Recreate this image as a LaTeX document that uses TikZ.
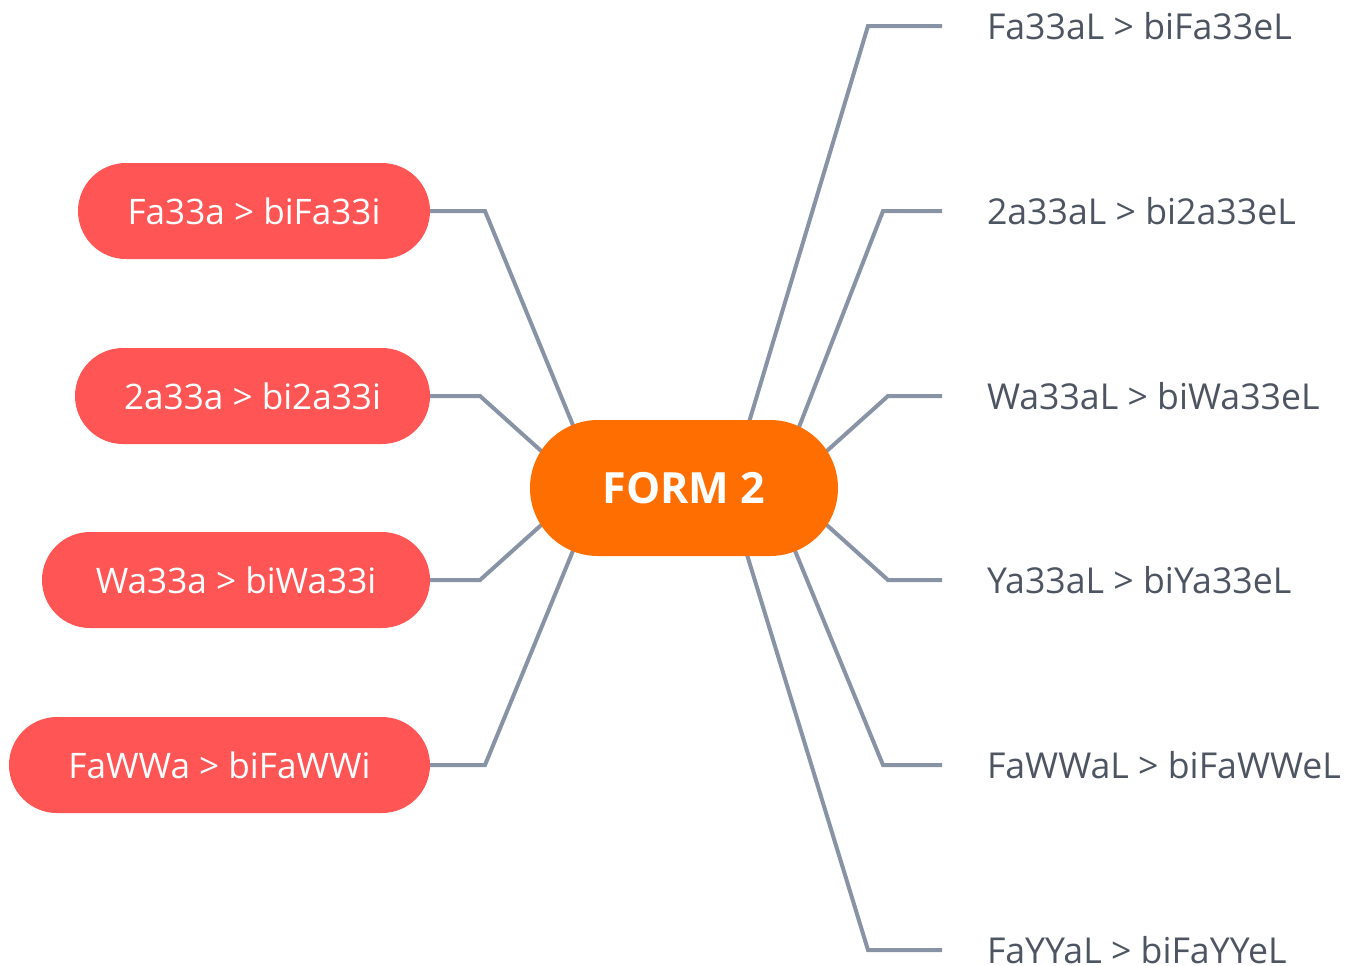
\documentclass[tikz,border=0pt]{standalone}
\usepackage{fontspec}
\setmainfont{Open Sans}
\usepackage{tikz}
\usetikzlibrary{positioning,backgrounds}

\definecolor{oranssi}{RGB}{255,110,0}
\definecolor{punainen}{RGB}{255,85,85}
\definecolor{harmaa}{RGB}{136,148,166}
\definecolor{teksti}{RGB}{78,85,98}

\begin{document}
\begin{tikzpicture} [auto, thick,
                    keski/.style={rectangle,fill=oranssi,text=white,minimum width=6.16cm,minimum height=2.72cm,
                      rounded corners=1.36cm,inner sep=0pt,outer sep=0pt,font=\fontsize{24.5}{28}\selectfont\bfseries},
                    haara/.style={rectangle,fill=punainen,text=white,minimum height=1.92cm,rounded corners=0.96cm,
                      inner xsep=0.96cm,inner ysep=0pt,outer sep=0pt,anchor=east,font=\fontsize{20}{24}\selectfont},
                    lehti/.style={inner xsep=0.9cm,inner ysep=0pt,outer sep=0pt,anchor=west,text=teksti,
                      font=\fontsize{20.3}{24}\selectfont},
                    viiva/.style={draw=harmaa,line width=0.08cm,shorten >=-0.5cm}]

\useasboundingbox (0,0) rectangle (27.44,-19.3);

\node[keski] (N0) at (13.68,-9.76) {FORM 2};

\node[haara,minimum width=7.04cm] (N1) at (8.6,-4.22) {Fa33a > biFa33i};
\node[haara,minimum width=7.1cm] (N2) at (8.6,-7.92) {2a33a > bi2a33i};
\node[haara,minimum width=7.76cm] (N3) at (8.6,-11.6) {Wa33a > biWa33i};
\node[haara,minimum width=8.42cm] (N4) at (8.6,-15.3) {FaWWa > biFaWWi};

\node[lehti] (N11) at (18.84,-0.52) {Fa33aL > biFa33eL};
\node[lehti] (N12) at (18.84,-4.22) {2a33aL > bi2a33eL};
\node[lehti] (N13) at (18.84,-7.92) {Wa33aL > biWa33eL};
\node[lehti] (N14) at (18.84,-11.6) {Ya33aL > biYa33eL};
\node[lehti] (N15) at (18.84,-15.3) {FaWWaL > biFaWWeL};
\node[lehti] (N16) at (18.84,-19.0) {FaYYaL > biFaYYeL};

\begin{pgfonlayer}{background}
 \draw[viiva] (N1.east) -- ++(1.1,0) -- (N0.149);
 \draw[viiva] (N2.east) -- ++(1.0,0) -- (N0.163);
 \draw[viiva] (N3.east) -- ++(1.0,0) -- (N0.197);
 \draw[viiva] (N4.east) -- ++(1.1,0) -- (N0.211);
 \draw[viiva] (N11.west) -- ++(-1.48,0) -- (N0.46.7);
 \draw[viiva] (N12.west) -- ++(-1.18,0) -- (N0.30.6);
 \draw[viiva] (N13.west) -- ++(-1.08,0) -- (N0.17);
 \draw[viiva] (N14.west) -- ++(-1.08,0) -- (N0.343);
 \draw[viiva] (N15.west) -- ++(-1.18,0) -- (N0.329.4);
 \draw[viiva] (N16.west) -- ++(-1.48,0) -- (N0.313.3);
\end{pgfonlayer}
\end{tikzpicture}
\end{document}
